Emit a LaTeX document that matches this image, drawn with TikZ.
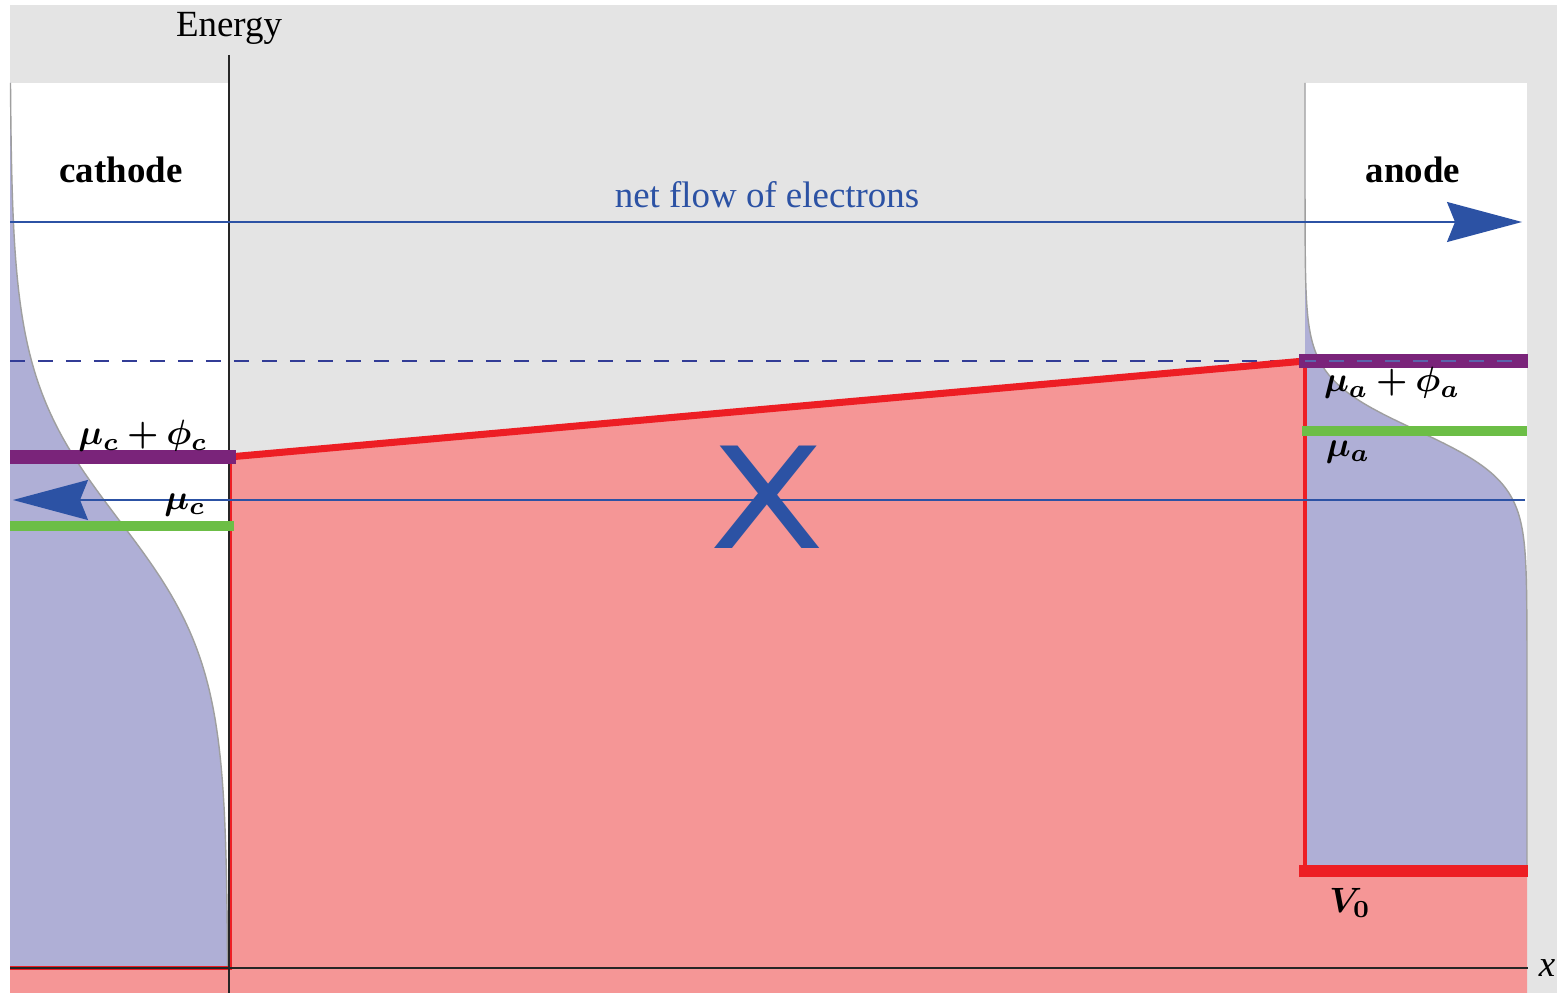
\documentclass[tikz,border=0pt]{standalone}
\usepackage{fontspec}
\setmainfont{Liberation Serif}
\newfontfamily\xfont{DejaVu Sans}
\usepackage{amsmath}
\usepackage{bm}
\usepackage{tikz}
\usetikzlibrary{arrows.meta}
\definecolor{bggray}{RGB}{228,228,228}
\definecolor{fermicol}{RGB}{175,175,214}
\definecolor{barpink}{RGB}{245,150,150}
\definecolor{barred}{RGB}{237,30,36}
\definecolor{wfpurple}{RGB}{122,36,122}
\definecolor{mugreen}{RGB}{108,190,70}
\definecolor{flowblue}{RGB}{44,82,164}
\definecolor{dashblue}{RGB}{50,60,150}

\begin{document}
\begin{tikzpicture}[
  x=0.1mm, y=-0.1mm,
  font=\fontsize{10.5}{12.6}\selectfont,
  panel/.style={fill=white},
  fermi/.style={fill=fermicol},
  fermiedge/.style={draw=gray!75, line width=0.4pt},
  barrier/.style={draw=barred, line width=2pt},
  wall/.style={draw=barred, line width=0.9pt},
  wflevel/.style={draw=wfpurple, line width=4pt},
  mulevel/.style={draw=mugreen, line width=3pt},
  vlevel/.style={draw=barred, line width=3.4pt},
  axis/.style={draw=black!85, line width=0.5pt},
  flow/.style={draw=flowblue, line width=0.45pt, -{Stealth[length=7.5mm,width=4mm,inset=0.8mm]}},
  lbl/.style={inner sep=1pt},
  mlbl/.style={inner sep=1pt, font=\fontsize{9.6}{11}\selectfont},
]
\def\xl{10} \def\xa{229} \def\xs{1305} \def\xr{1527}
\def\yt{83} \def\yb{968} \def\yv{870}
\def\muc{520} \def\mua{430}
\useasboundingbox (0,0) rectangle (1563,993);
% background and electrode panels
\fill[bggray] (\xl,5) rectangle (1557,993);
\fill[panel] (\xl,\yt) rectangle (\xa,\yb);
\fill[panel] (\xs,\yt) rectangle (\xr,\yv);
% ---- occupied states (Fermi tails) ----
\fill[fermi] (\xl,\yt) -- plot[variable=\t, domain=\yt:\yb, samples=90, smooth] ({\xl+218/(1+exp(min(9,max(-9,-(\t-\muc)/72))))}, \t) -- (\xl,\yb) -- cycle;
\fill[fermi] (\xs,\yt) -- plot[variable=\t, domain=\yt:\yv, samples=120, smooth] ({\xs+222/(1+exp(min(9,max(-9,-(\t-\mua)/26))))}, \t) -- (\xs,\yv) -- cycle;
\draw[fermiedge] plot[variable=\t, domain=\yt:\yb, samples=90, smooth] ({\xl+218/(1+exp(min(9,max(-9,-(\t-\muc)/72))))}, \t);
\draw[fermiedge] plot[variable=\t, domain=\yt:\yv, samples=120, smooth] ({\xs+222/(1+exp(min(9,max(-9,-(\t-\mua)/26))))}, \t);
% ---- potential barrier ----
\fill[barpink] (\xl,993) -- (\xl,\yb) -- (\xa,\yb) -- (\xa,456) -- (\xs,361) -- (\xs,\yv) -- (\xr,\yv) -- (\xr,993) -- cycle;
\coordinate (bl) at (\xa,457); \coordinate (br) at (\xs,361);
\draw[dashblue, line width=0.4pt, dash pattern=on 1.5mm off 1.3mm] (\xl,361) -- (1520,361);
\draw[barrier] (bl) -- (br);
\draw[wall] (\xa+1,457) -- (\xa+1,\yb) -- (\xl,\yb);
\draw[wall] (br) -- (\xs,\yv);
% axes
\draw[axis] (\xa,55) -- (\xa,993);
\draw[axis] (\xl,\yb) -- (1528,\yb);
% ---- levels ----
\draw[wflevel] (\xl,457) -- (236,457);
\draw[mulevel] (\xl,526) -- (234,526);
\draw[wflevel] (1299,361) -- (1528,361);
\draw[mulevel] (1302,431) -- (1527,431);
\draw[vlevel] (1299,871) -- (1528,871);
\draw[dashblue!80, line width=0.5pt, dash pattern=on 1.5mm off 1.3mm, dash phase=0.4mm] (1305,361) -- (1520,361);
% ---- electron flow ----
\coordinate (fl0) at (\xl,222); \coordinate (fl1) at (1522,222);
\coordinate (bk0) at (1525,500); \coordinate (bk1) at (13,500);
\draw[flow] (fl0) -- (fl1);
\draw[flow] (bk0) -- (bk1);
% labels
\node[lbl] (energy) at (\xa,28) {Energy};
\node[lbl, font=\fontsize{10.5}{12.6}\selectfont\bfseries] (cath) at (121,170) {cathode};
\node[lbl, font=\fontsize{10.5}{12.6}\selectfont\bfseries] (anod) at (1413,170) {anode};
\node[lbl, text=flowblue] (flowlbl) at (767,195) {net flow of electrons};
\node[mlbl] (mucphi) at (143,436) {$\bm{\mu_c+\phi_c}$};
\node[mlbl] (muclbl) at (185,505) {$\bm{\mu_c}$};
\node[mlbl] (muaphi) at (1392,383) {$\bm{\mu_a+\phi_a}$};
\node[mlbl] (mualbl) at (1348,452) {$\bm{\mu_a}$};
\node[mlbl] (vzero) at (1350,903) {$\bm{V_0}$};
\node[lbl] (xlbl) at (1547,968) {\textit{x}};
\node[inner sep=0pt, text=flowblue, font=\xfont\fontsize{40}{40}\selectfont] (cross) at (767,497) {\scalebox{1.2}[1]{X}};
\end{tikzpicture}
\end{document}
